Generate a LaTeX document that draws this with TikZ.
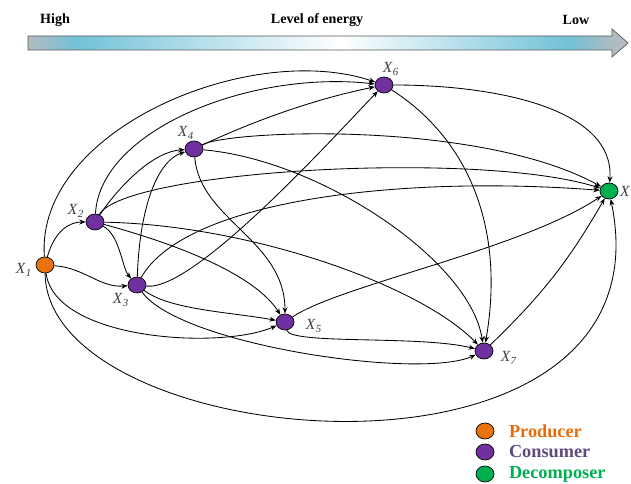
\documentclass[tikz,border=0pt]{standalone}
\usepackage{fontspec}
\setmainfont{Liberation Serif}
\usepackage{tikz}
\usetikzlibrary{arrows.meta, positioning, shapes.geometric}
\usepackage{xcolor}

\definecolor{prodorange}{HTML}{E8730F}
\definecolor{conspurple}{HTML}{7030A0}
\definecolor{decgreen}{HTML}{00B050}
\definecolor{prodtext}{HTML}{E46C0A}
\definecolor{constext}{HTML}{604A7B}
\definecolor{barcyan}{HTML}{72C2D8}
\definecolor{bargray}{HTML}{B3BBC0}
\definecolor{labelgray}{HTML}{404040}

\pgfdeclarehorizontalshading{energy}{100bp}{color(0bp)=(bargray); color(25bp)=(bargray); color(29bp)=(barcyan); color(51bp)=(white); color(70bp)=(barcyan); color(74bp)=(bargray); color(100bp)=(bargray)}

\newcommand{\xlab}[1]{\textit{X}\textsubscript{\textit{#1}}}

\begin{document}
\begin{tikzpicture}[
    x=0.025cm, y=0.025cm,
    species/.style={
        draw,
        ellipse,
        line width=0.5pt,
        inner sep=0pt,
        minimum width=0.45cm,
        minimum height=0.4cm
    },
    producer/.style={species, fill=prodorange},
    consumer/.style={species, fill=conspurple},
    decomposer/.style={species, fill=decgreen},
    toptext/.style={font=\fontsize{10}{12}\selectfont\bfseries, inner sep=0pt},
    lbl/.style={text=labelgray, font=\fontsize{11}{13}\selectfont, inner sep=0pt},
    legend/.style={font=\fontsize{13}{15}\selectfont\bfseries, inner sep=0pt},
    arrow/.style={-{Stealth[length=4.5pt, width=3.5pt]}, line width=0.6pt}
]

\useasboundingbox (0,0) rectangle (631,484);

% energy scale
\shade[shading=energy, draw=black!65, line width=0.5pt]
    (28,434) -- (612,434) -- (612,427) -- (628,441) -- (612,455) -- (612,448) -- (28,448) -- cycle;
\node[toptext] (high) at (55,464) {High};
\node[toptext] (level) at (317,464) {Level of energy};
\node[toptext] (low) at (576,464) {Low};

% species
\node[producer] (x1) at (45,219) {};
\node[consumer] (x2) at (95,262) {};
\node[consumer] (x3) at (137,199) {};
\node[consumer] (x4) at (194,335) {};
\node[consumer] (x5) at (285,162) {};
\node[consumer] (x6) at (384,399) {};
\node[consumer] (x7) at (484,133) {};
\node[decomposer] (x8) at (609,293) {};

\node[lbl] (l1) at (24,214) {\xlab{1}};
\node[lbl] (l2) at (76,273) {\xlab{2}};
\node[lbl] (l3) at (121,184) {\xlab{3}};
\node[lbl] (l4) at (186,351) {\xlab{4}};
\node[lbl] (l5) at (314,158) {\xlab{5}};
\node[lbl] (l6) at (391,415) {\xlab{6}};
\node[lbl] (l7) at (509,126) {\xlab{7}};
\node[lbl] (l8) at (625,293) {\textit{X}};

% energy flows
\draw[arrow] (x1) .. controls +(10,35) and +(-25,0) .. (x2);
\draw[arrow] (x1) .. controls +(40,-3) and +(-37,-3) .. (x3);
\draw[arrow] (x1) .. controls +(-10,135) and +(-134,45) .. (x6);
\draw[arrow] (x1) .. controls +(10,-75) and +(-65,-28) .. (x5);
\draw[arrow] (x1) .. controls +(2,-190) and +(66,-319) .. (x8);

\draw[arrow] (x2) .. controls +(25,-13) and +(-15,17) .. (x3);
\draw[arrow] (x2) .. controls +(20,30) and +(-44,-3) .. (x4);
\draw[arrow] (x2) .. controls +(5,92) and +(-134,15) .. (x6);
\draw[arrow] (x2) .. controls +(30,52) and +(-129,41) .. (x8);
\draw[arrow] (x2) .. controls +(85,-23) and +(-30,47) .. (x5);
\draw[arrow] (x2) .. controls +(155,-3) and +(-64,66) .. (x7);

\draw[arrow] (x3) .. controls +(3,85) and +(-34,-11) .. (x4);
\draw[arrow] (x3) .. controls +(33,-25) and +(-55,10) .. (x5);
\draw[arrow] (x3) .. controls +(58,-7) and +(-44,-45) .. (x6);
\draw[arrow] (x3) .. controls +(43,-60) and +(-64,-29) .. (x7);
\draw[arrow] (x3) .. controls +(48,85) and +(-209,16) .. (x8);

\draw[arrow] (x4) .. controls +(66,31) and +(-64,-13) .. (x6);
\draw[arrow] (x4) .. controls +(36,19) and +(-129,71) .. (x8);
\draw[arrow] (x4) .. controls +(6,-71) and +(0,82) .. (x5);
\draw[arrow] (x4) .. controls +(126,-11) and +(-14,91) .. (x7);

\draw[arrow] (x5) .. controls +(5,-23) and +(-64,16) .. (x7);
\draw[arrow] (x5) .. controls +(55,37) and +(-89,-59) .. (x8);

\draw[arrow] (x6) .. controls +(86,-55) and +(21,121) .. (x7);
\draw[arrow] (x6) .. controls +(116,0) and +(6,81) .. (x8);

\draw[arrow] (x7) to[bend right=8] (x8);

% legend
\node[producer] (legprod) at (485,53) {};
\node[consumer] (legcons) at (485,32) {};
\node[decomposer] (legdec) at (485,10) {};
\node[legend, text=prodtext, right=0.36cm of legprod] (tprod) {Producer};
\node[legend, text=constext, right=0.36cm of legcons] (tcons) {Consumer};
\node[legend, text=decgreen, right=0.36cm of legdec] (tdec) {Decomposer};

\end{tikzpicture}
\end{document}
